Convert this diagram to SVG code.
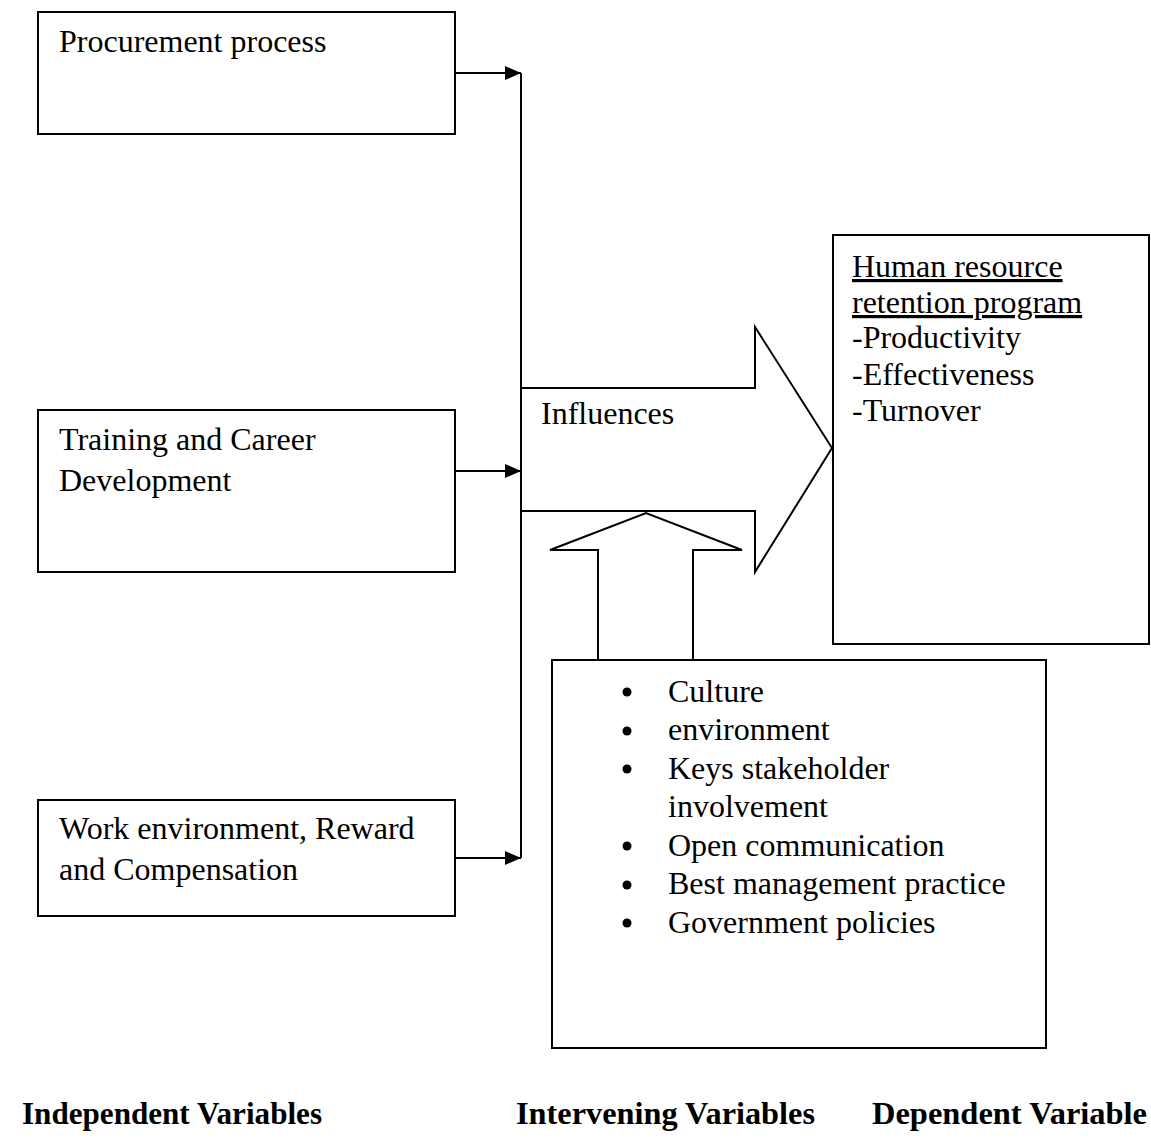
<svg xmlns="http://www.w3.org/2000/svg" width="1151" height="1139" viewBox="0 0 1151 1139">
<style>
.box{fill:#fff;stroke:#000;stroke-width:2}
.ln{fill:none;stroke:#000;stroke-width:2}
.shape{fill:#fff;stroke:#000;stroke-width:2;stroke-linejoin:miter}
text{font-family:"Liberation Serif","Times New Roman",serif;font-size:32px;fill:#000}
.lbl{font-weight:bold;font-size:32px}
.u{text-decoration:underline}
</style>
<defs>
<marker id="ah" viewBox="0 0 16 14" refX="16" refY="7" markerWidth="16" markerHeight="14" markerUnits="userSpaceOnUse" orient="auto">
<path d="M0,0 L16,7 L0,14 Z" fill="#000"/>
</marker>
</defs>
<rect width="1151" height="1139" fill="#fff"/>
<g id="influences-arrow">
<path class="shape" d="M521,388 L755,388 L755,327 L832,448 L755,572 L755,511 L521,511"/>
<text x="541" y="424">Influences</text>
</g>
<g id="intervening-arrow">
<path class="shape" d="M598,662 L598,550 L550,550 L646,513 L742,550 L693,550 L693,662"/>
</g>
<g id="connectors">
<line class="ln" x1="521" y1="73" x2="521" y2="858"/>
<line class="ln" x1="455" y1="73" x2="521" y2="73" marker-end="url(#ah)"/>
<line class="ln" x1="455" y1="471" x2="521" y2="471" marker-end="url(#ah)"/>
<line class="ln" x1="455" y1="858" x2="521" y2="858" marker-end="url(#ah)"/>
</g>
<g id="procurement">
<rect class="box" x="38" y="12" width="417" height="122"/>
<text x="59" y="52">Procurement process</text>
</g>
<g id="training">
<rect class="box" x="38" y="410" width="417" height="162"/>
<text x="59" y="450">Training and Career</text>
<text x="59" y="491">Development</text>
</g>
<g id="work">
<rect class="box" x="38" y="800" width="417" height="116"/>
<text x="59" y="839">Work environment, Reward</text>
<text x="59" y="880">and Compensation</text>
</g>
<g id="hr">
<rect class="box" x="833" y="235" width="316" height="409"/>
<text x="852" y="277" class="u">Human resource</text>
<text x="852" y="313" class="u">retention program</text>
<text x="852" y="348">-Productivity</text>
<text x="852" y="385">-Effectiveness</text>
<text x="852" y="421">-Turnover</text>
</g>
<g id="intervening">
<rect class="box" x="552" y="660" width="494" height="388"/>
<g fill="#000">
<circle cx="627" cy="692" r="4.5"/>
<circle cx="627" cy="731" r="4.5"/>
<circle cx="627" cy="769" r="4.5"/>
<circle cx="627" cy="846" r="4.5"/>
<circle cx="627" cy="885" r="4.5"/>
<circle cx="627" cy="923" r="4.5"/>
</g>
<text x="668" y="702">Culture</text>
<text x="668" y="740">environment</text>
<text x="668" y="779">Keys stakeholder</text>
<text x="668" y="817">involvement</text>
<text x="668" y="856">Open communication</text>
<text x="668" y="894">Best management practice</text>
<text x="668" y="933">Government policies</text>
</g>
<g id="labels">
<text class="lbl" x="22" y="1124" textLength="300" lengthAdjust="spacingAndGlyphs">Independent Variables</text>
<text class="lbl" x="516" y="1124" textLength="299" lengthAdjust="spacingAndGlyphs">Intervening Variables</text>
<text class="lbl" x="872" y="1124" textLength="275" lengthAdjust="spacingAndGlyphs">Dependent Variable</text>
</g>
</svg>
